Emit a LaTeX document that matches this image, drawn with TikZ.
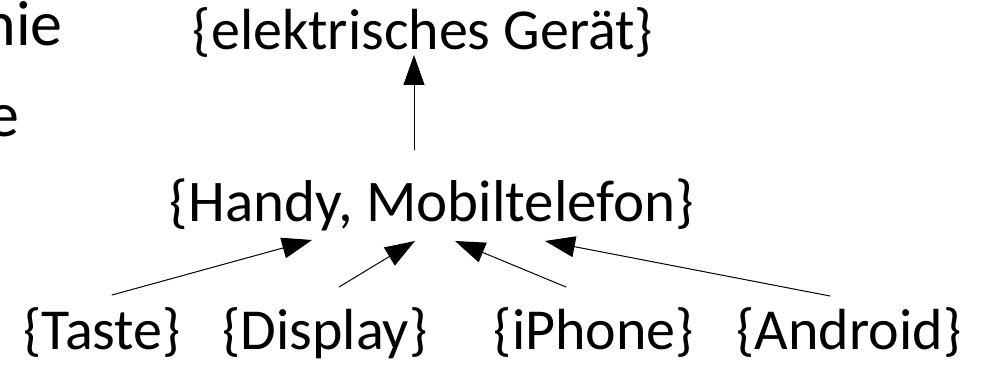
\documentclass[tikz,border=0pt]{standalone}
\usepackage{fontspec}
\setmainfont{Carlito}
\usetikzlibrary{arrows.meta}
\tikzset{
  begriff/.style={anchor=base,inner sep=0pt,font=\fontsize{58}{64}\selectfont},
  klein/.style={anchor=base,inner sep=0pt,font=\fontsize{58}{64}\selectfont},
  rest/.style={anchor=base east,inner sep=0pt,font=\fontsize{64}{72}\selectfont},
  pfeil/.style={-{Triangle[length=30pt,width=21pt]},line width=1pt}
}
\begin{document}
\begin{tikzpicture}[line cap=round,line join=round,x=1pt,y=1pt]
  \useasboundingbox (0,0) rectangle (984,364);
  % angeschnittener Text links
  \node[rest] (rest1) at (63,318) {nie};
  \node[rest] (rest2) at (20,227) {e};
  % Begriffe
  \node[begriff] (geraet) at (423,314) {\{elektrisches Gerät\}};
  \node[begriff,font=\fontsize{59}{66}\selectfont] (handy) at (432,142) {\{Handy, Mobiltelefon\}};
  \node[klein] (taste) at (102,15) {\{Taste\}};
  \node[klein] (display) at (325,15) {\{Display\}};
  \node[klein] (iphone) at (594,15) {\{iPhone\}};
  \node[klein] (android) at (849,15) {\{Android\}};
  % Endpunkte der Pfeile
  \coordinate (h0) at (414,214);
  \coordinate (g0) at (414,309);
  \coordinate (t0) at (112,69);
  \coordinate (t1) at (312,124);
  \coordinate (d0) at (339,77);
  \coordinate (d1) at (415,123);
  \coordinate (i0) at (566,77);
  \coordinate (i1) at (455,123);
  \coordinate (a0) at (830,68);
  \coordinate (a1) at (545,123);
  \draw[pfeil] (h0) -- (g0);
  \draw[pfeil] (t0) -- (t1);
  \draw[pfeil] (d0) -- (d1);
  \draw[pfeil] (i0) -- (i1);
  \draw[pfeil] (a0) -- (a1);
\end{tikzpicture}
\end{document}
